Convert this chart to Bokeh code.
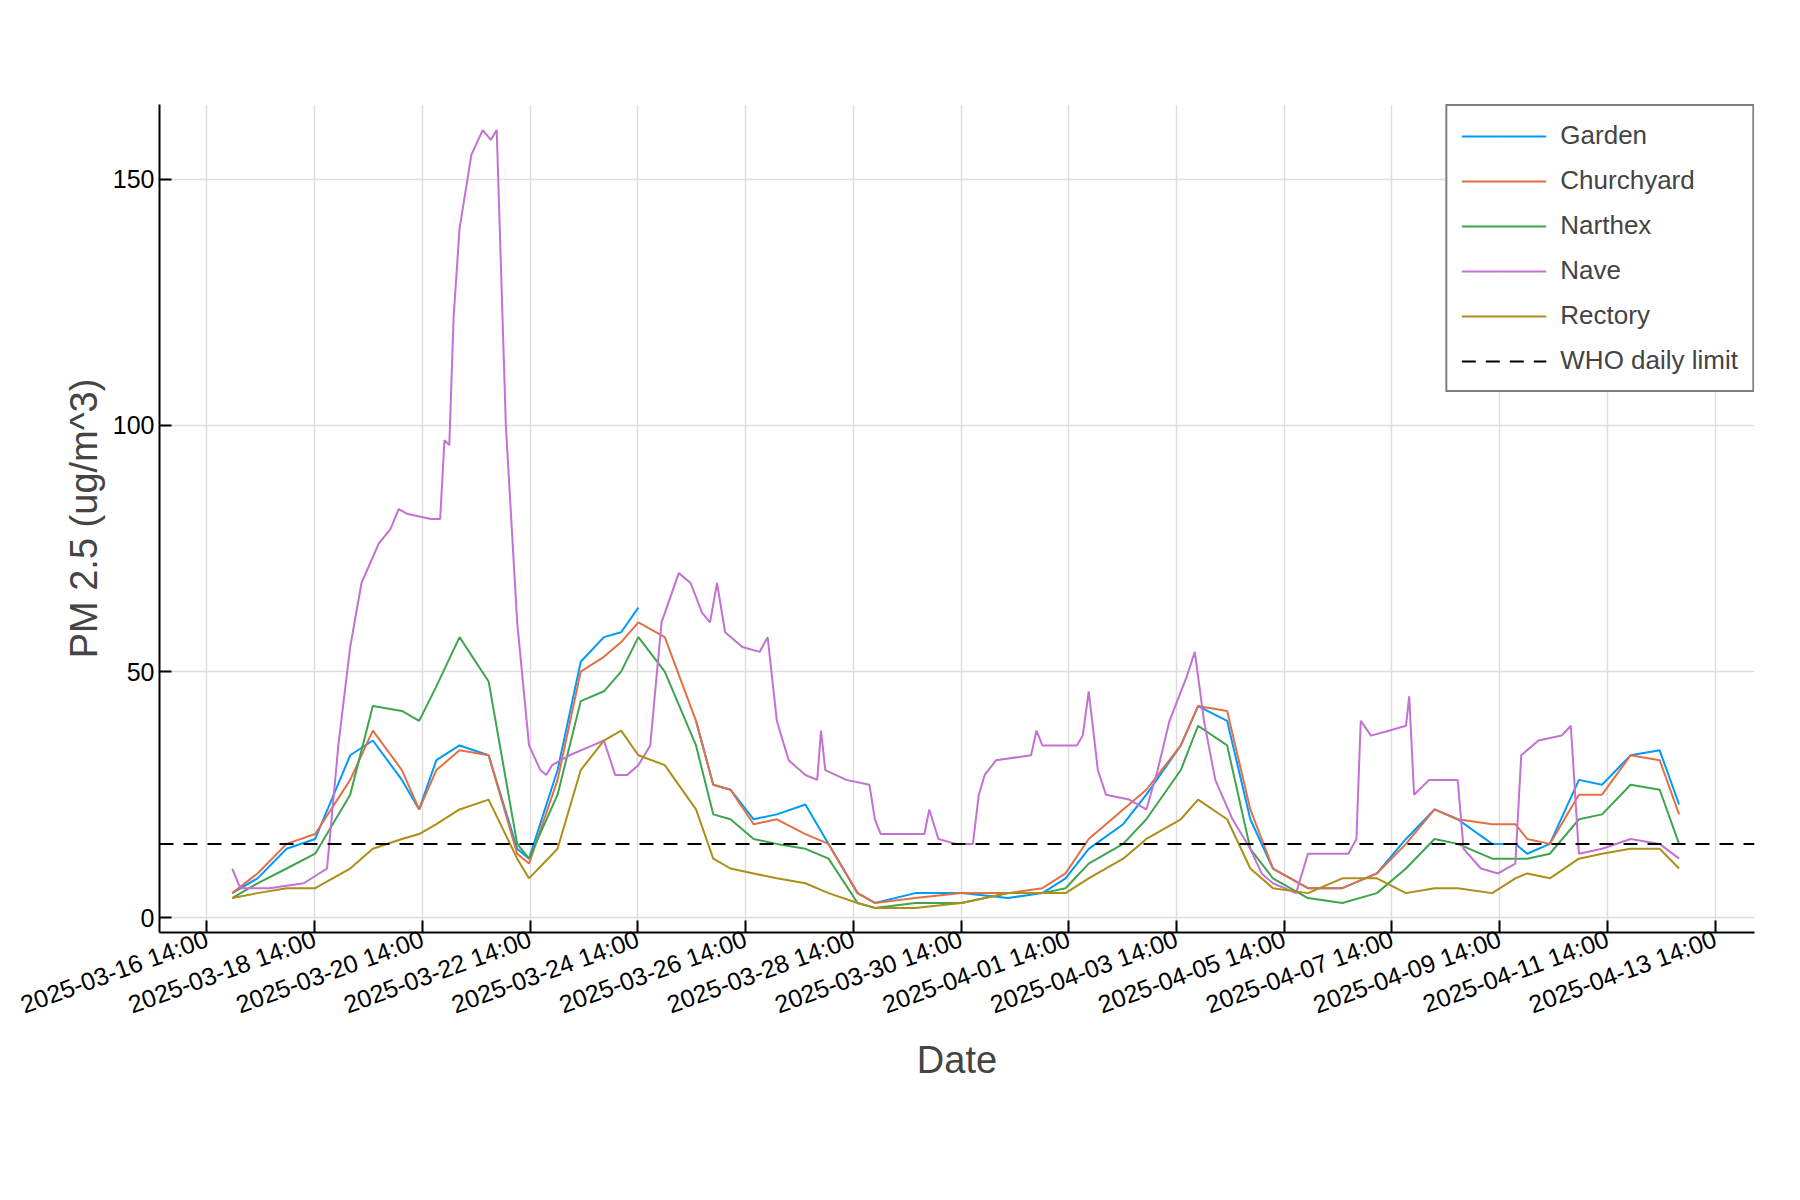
import numpy as np, pandas as pd
from datetime import datetime, timedelta
from bokeh.plotting import figure
from bokeh.models import FixedTicker, DatetimeTickFormatter, Range1d, Legend, LegendItem
from bokeh.embed import file_html
from bokeh.resources import INLINE

base = datetime(2025, 3, 16, 14, 0)
# days since base
t_common = [0.47,0.94,1.48,2.01,2.66,3.08,3.62,3.94,4.26,4.69,5.23,5.76,5.98,6.51,6.94,7.37,7.69,8.01,8.5,9.08,9.40,9.72,10.15,10.58,11.11,11.54,12.08,12.40,13.15,14.01,14.87,15.51,15.94,16.37,17.01,17.44,18.08,18.40,18.94,19.37,19.79,20.44,21.08,21.72,22.26,22.79,23.22,23.86,24.29,24.51,24.93,25.47,25.90,26.43,26.97,27.33]
garden = [5,8,14,16,33,36,28,22,32,35,33,14,12,30,52,57,58,63,np.nan,40,27,26,20,21,23,15,5,3,5,5,4,5,8,14,19,25,35,43,40,20,10,6,6,9,16,22,20,15,15,13,15,28,27,33,34,23]
churchyard = [5,9,15,17,28,38,30,22,30,34,33,13,11,28,50,53,56,60,57,40,27,26,19,20,17,15,5,3,4,5,5,6,9,16,22,26,35,43,42,22,10,6,6,9,15,22,20,19,19,16,15,25,25,33,32,21]
narthex = [4,7,10,13,25,43,42,40,47,57,48,15,12,25,44,46,50,57,50,35,21,20,16,15,14,12,3,2,3,3,5,5,6,11,15,20,30,39,35,14,8,4,3,5,10,16,15,12,12,12,13,20,21,27,26,15]
rectory = [4,5,6,6,10,14,16,17,19,22,24,12,8,14,30,36,38,33,31,22,12,10,9,8,7,5,3,2,2,3,5,5,5,8,12,16,20,24,20,10,6,5,8,8,5,6,6,5,8,9,8,12,13,14,14,10]
nave_t = [0.47,0.62,1.16,1.80,2.23,2.44,2.66,2.87,3.19,3.41,3.56,3.73,4.16,4.33,4.41,4.50,4.58,4.69,4.91,5.12,5.27,5.38,5.55,5.76,5.98,6.19,6.30,6.41,6.73,7.16,7.37,7.58,7.80,8.01,8.23,8.44,8.76,8.98,9.19,9.34,9.47,9.62,9.94,10.26,10.41,10.58,10.80,11.11,11.33,11.40,11.48,11.87,12.30,12.40,12.51,12.94,13.32,13.41,13.58,13.90,14.22,14.33,14.44,14.65,15.30,15.40,15.51,15.72,16.15,16.26,16.37,16.54,16.69,17.12,17.44,17.65,17.87,18.19,18.34,18.51,18.72,19.04,19.37,19.58,19.79,20.22,20.44,21.19,21.34,21.42,21.61,21.94,22.26,22.32,22.41,22.69,23.22,23.33,23.65,23.97,24.29,24.40,24.72,25.15,25.32,25.47,25.90,26.43,26.97,27.33]
nave = [10,6,6,7,10,35,55,68,76,79,83,82,81,81,97,96,122,140,155,160,158,160,100,60,35,30,29,31,33,35,36,29,29,31,35,60,70,68,62,60,68,58,55,54,57,40,32,29,28,38,30,28,27,20,17,17,17,22,16,15,15,25,29,32,33,38,35,35,35,37,46,30,25,24,22,30,40,49,54,40,28,20,14,9,7,5,13,13,16,40,37,38,39,45,25,28,28,14,10,9,11,33,36,37,39,13,14,16,15,12]
who_limit = 15
tick_days = list(range(0, 29, 2))

def to_dt(ts):
    return [base + timedelta(days=d) for d in ts]

x0 = base - timedelta(days=0.88)
x1 = base + timedelta(days=28.73)
p = figure(width=1784, height=1184, x_axis_type="datetime", output_backend="svg", toolbar_location=None,
           x_range=Range1d(x0, x1), y_range=Range1d(-3, 165.2),
           min_border_left=159, min_border_top=104, min_border_right=30, min_border_bottom=252)
p.outline_line_color = None
colors = ["#009AFA", "#E36F47", "#3EA44E", "#C371D2", "#AC8E18"]
items = []
for name, t, v, c in [("Garden", t_common, garden, colors[0]), ("Churchyard", t_common, churchyard, colors[1]),
                      ("Narthex", t_common, narthex, colors[2]), ("Nave", nave_t, nave, colors[3]),
                      ("Rectory", t_common, rectory, colors[4])]:
    r = p.line(to_dt(t), v, line_color=c, line_width=2)
    items.append(LegendItem(label=name, renderers=[r]))
r = p.line([x0, x1], [who_limit, who_limit], line_color="black", line_width=2, line_dash="14 10")
items.append(LegendItem(label="WHO daily limit", renderers=[r]))
leg = Legend(items=items, location="top_right", label_text_font_size="26px", label_text_font="Liberation Sans",
             border_line_color="black", border_line_width=2, glyph_width=85, spacing=14, padding=14,
             margin=0, label_standoff=14)
p.add_layout(leg, "center")

p.xaxis.ticker = FixedTicker(ticks=[(base + timedelta(days=d) - datetime(1970, 1, 1)).total_seconds() * 1000 for d in tick_days])
p.xaxis.formatter = DatetimeTickFormatter(days="%Y-%m-%d %H:%M", hours="%Y-%m-%d %H:%M", months="%Y-%m-%d %H:%M")
p.xaxis.major_label_orientation = 0.35
p.yaxis.ticker = FixedTicker(ticks=[0, 50, 100, 150])
p.xaxis.axis_label = "Date"
p.yaxis.axis_label = "PM 2.5 (ug/m^3)"
for ax in (p.xaxis, p.yaxis):
    ax.axis_label_text_font = "Liberation Sans"
    ax.axis_label_text_font_style = "normal"
    ax.axis_label_text_font_size = "38px"
    ax.major_label_text_font = "Liberation Sans"
    ax.major_label_text_font_size = "25px"
    ax.major_label_text_color = "black"
    ax.axis_line_width = 2
    ax.major_tick_in = 12
    ax.major_tick_out = 0
    ax.major_tick_line_width = 2
    ax.minor_tick_line_color = None
p.grid.grid_line_color = "#dddddd"
p.grid.grid_line_width = 1.5

open("out.html", "w").write(file_html(p, INLINE))
